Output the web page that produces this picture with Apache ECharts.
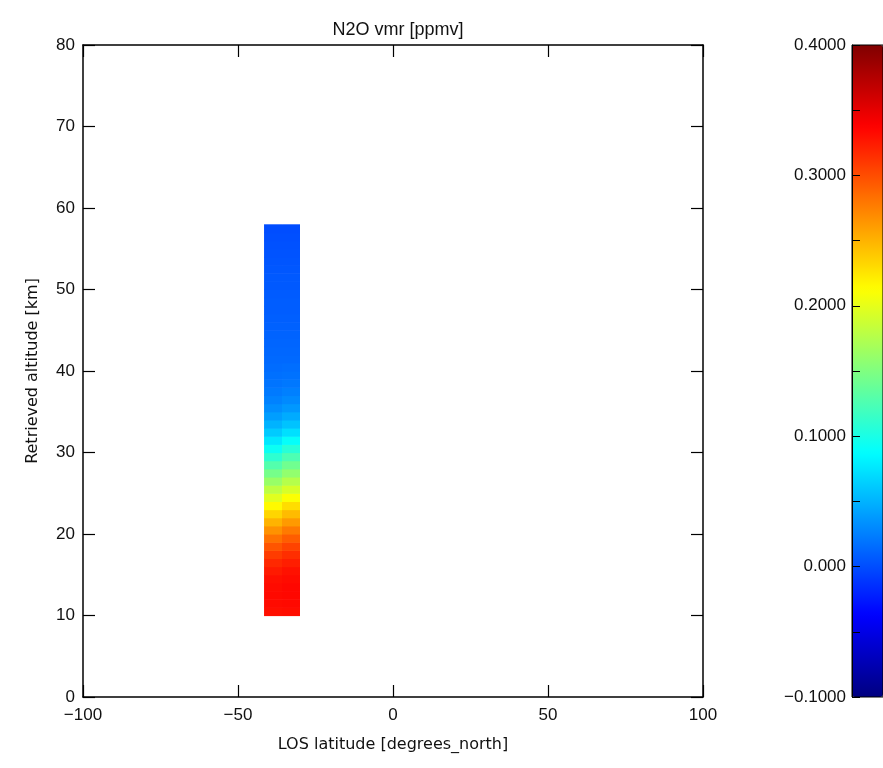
<!DOCTYPE html>
<html>
<head>
<meta charset="utf-8">
<script src="https://cdn.jsdelivr.net/npm/echarts@6/dist/echarts.min.js"></script>
<style>
html,body{margin:0;padding:0;background:#fff;}
#chart{width:883px;height:768px;}
</style>
</head>
<body>
<div id="chart"></div>
<script>
// ---- data ----
var titleText = 'N2O vmr [ppmv]';
var xName = 'LOS latitude [degrees_north]';
var yName = 'Retrieved altitude [km]';
var xTicks = [-100, -50, 0, 50, 100];
var yTicks = [0, 10, 20, 30, 40, 50, 60, 70, 80];
var cbTicks = [-0.1, 0.0, 0.1, 0.2, 0.3, 0.4];
var cbLabels = ['\u22120.1000', '0.000', '0.1000', '0.2000', '0.3000', '0.4000'];
// latitude edges of the two profile columns
var latEdges = [-41.6, -35.8, -30.0];
// bottom of each 1 km altitude cell (cell spans alt..alt+1)
var altBottoms = [10,11,12,13,14,15,16,17,18,19,20,21,22,23,24,25,26,27,28,29,30,31,32,33,
                  34,35,36,37,38,39,40,41,42,43,44,45,46,47,48,49,50,51,52,53,54,55,56,57];
// N2O vmr [ppmv] — left column
var vmrLeft = [0.330,0.332,0.333,0.332,0.330,0.325,0.318,0.308,0.296,0.282,0.266,0.250,0.233,0.215,
               0.197,0.180,0.162,0.145,0.128,0.110,0.093,0.076,0.062,0.050,0.040,0.032,0.026,0.022,
               0.019,0.017,0.015,0.014,0.013,0.012,0.011,0.010,0.009,0.008,0.008,0.007,0.006,0.006,
               0.005,0.004,0.003,0.002,0.001,0.000];
// N2O vmr [ppmv] — right column
var vmrRight = [0.331,0.333,0.334,0.334,0.332,0.329,0.323,0.315,0.305,0.292,0.278,0.262,0.246,0.229,
                0.211,0.193,0.176,0.159,0.142,0.125,0.107,0.090,0.072,0.058,0.046,0.037,0.030,0.025,
                0.021,0.018,0.016,0.014,0.013,0.012,0.011,0.010,0.009,0.008,0.008,0.007,0.006,0.006,
                0.005,0.004,0.003,0.002,0.001,0.000];
var vmin = -0.1, vmax = 0.4;

// ---- build cells ----
var cells = [];
var cols = [vmrLeft, vmrRight];
for (var c = 0; c < cols.length; c++) {
  for (var i = 0; i < altBottoms.length; i++) {
    cells.push([latEdges[c], latEdges[c + 1], altBottoms[i], altBottoms[i] + 1, cols[c][i]]);
  }
}

var FONT = 'Liberation Sans';
var NAMEFONT = 'DejaVu Sans';
var jet = ['#000080', '#0000ff', '#0080ff', '#00ffff', '#80ff80', '#ffff00', '#ff8000', '#ff0000', '#800000'];
function fmtMinus(v) { return v < 0 ? '\u2212' + Math.abs(v) : String(v); }

var chart = echarts.init(document.getElementById('chart'));
chart.setOption({
  backgroundColor: '#fff',
  animation: false,
  title: {
    text: titleText, left: 393, top: 16, textAlign: 'center',
    textStyle: { fontFamily: FONT, fontSize: 18, fontWeight: 'normal', color: '#111' }
  },
  grid: [
    { left: 83, top: 45, width: 620, height: 652, show: false },
    { left: 852, top: 45, width: 40, height: 652, show: true, borderColor: '#000', borderWidth: 1,
      backgroundColor: 'transparent', z: 10 }
  ],
  visualMap: {
    type: 'continuous', min: vmin, max: vmax, dimension: 4, seriesIndex: 0,
    calculable: false, show: true, left: 852, top: 45, itemWidth: 31, itemHeight: 652,
    padding: 0, text: null, inRange: { color: jet }, hoverLink: false
  },
  xAxis: [
    { type: 'value', gridIndex: 0, min: -100, max: 100, interval: 50, position: 'bottom',
      axisLine: { onZero: false, lineStyle: { color: '#000', width: 1.5 } },
      axisTick: { inside: true, length: 12, lineStyle: { color: '#000', width: 1.2 } },
      axisLabel: { formatter: fmtMinus, margin: 10, fontFamily: FONT, fontSize: 17, color: '#111' },
      splitLine: { show: false },
      name: xName, nameLocation: 'middle', nameGap: 40,
      nameTextStyle: { fontFamily: NAMEFONT, fontSize: 16, color: '#111' } },
    { type: 'value', gridIndex: 0, min: -100, max: 100, interval: 50, position: 'top',
      axisLine: { onZero: false, lineStyle: { color: '#000', width: 1.5 } },
      axisTick: { inside: true, length: 12, lineStyle: { color: '#000', width: 1.2 } },
      axisLabel: { show: false }, splitLine: { show: false } },
    { type: 'value', gridIndex: 1, min: 0, max: 1, show: false }
  ],
  yAxis: [
    { type: 'value', gridIndex: 0, min: 0, max: 80, interval: 10, position: 'left',
      axisLine: { onZero: false, lineStyle: { color: '#000', width: 1.5 } },
      axisTick: { inside: true, length: 12, lineStyle: { color: '#000', width: 1.2 } },
      axisLabel: { margin: 8, fontFamily: FONT, fontSize: 17, color: '#111' },
      splitLine: { show: false },
      name: yName, nameLocation: 'middle', nameGap: 42, nameRotate: 90,
      nameTextStyle: { fontFamily: NAMEFONT, fontSize: 16, color: '#111' } },
    { type: 'value', gridIndex: 0, min: 0, max: 80, interval: 10, position: 'right',
      axisLine: { onZero: false, lineStyle: { color: '#000', width: 1.5 } },
      axisTick: { inside: true, length: 12, lineStyle: { color: '#000', width: 1.2 } },
      axisLabel: { show: false }, splitLine: { show: false } },
    { type: 'value', gridIndex: 1, min: vmin, max: vmax, interval: 0.1, position: 'left', z: 10,
      axisLine: { show: true, onZero: false, lineStyle: { color: '#000', width: 1 } },
      axisTick: { show: true, inside: true, length: 8, lineStyle: { color: '#000', width: 1 } },
      minorTick: { show: true, splitNumber: 2, length: 8, lineStyle: { color: '#000', width: 1 } },
      axisLabel: {
        margin: 6, fontFamily: FONT, fontSize: 17, color: '#111',
        formatter: function (v) {
          for (var k = 0; k < cbTicks.length; k++) {
            if (Math.abs(v - cbTicks[k]) < 1e-9) return cbLabels[k];
          }
          return '';
        }
      },
      splitLine: { show: false } }
  ],
  series: [
    {
      type: 'custom', xAxisIndex: 0, yAxisIndex: 0,
      encode: { x: [0, 1], y: [2, 3] },
      data: cells,
      renderItem: function (params, api) {
        var p0 = api.coord([api.value(0), api.value(3)]);
        var p1 = api.coord([api.value(1), api.value(2)]);
        var color = api.visual('color');
        return {
          type: 'rect',
          shape: { x: p0[0], y: p0[1], width: p1[0] - p0[0], height: p1[1] - p0[1] + 0.6 },
          style: { fill: color, stroke: null }
        };
      }
    }
  ]
});
</script>
</body>
</html>
